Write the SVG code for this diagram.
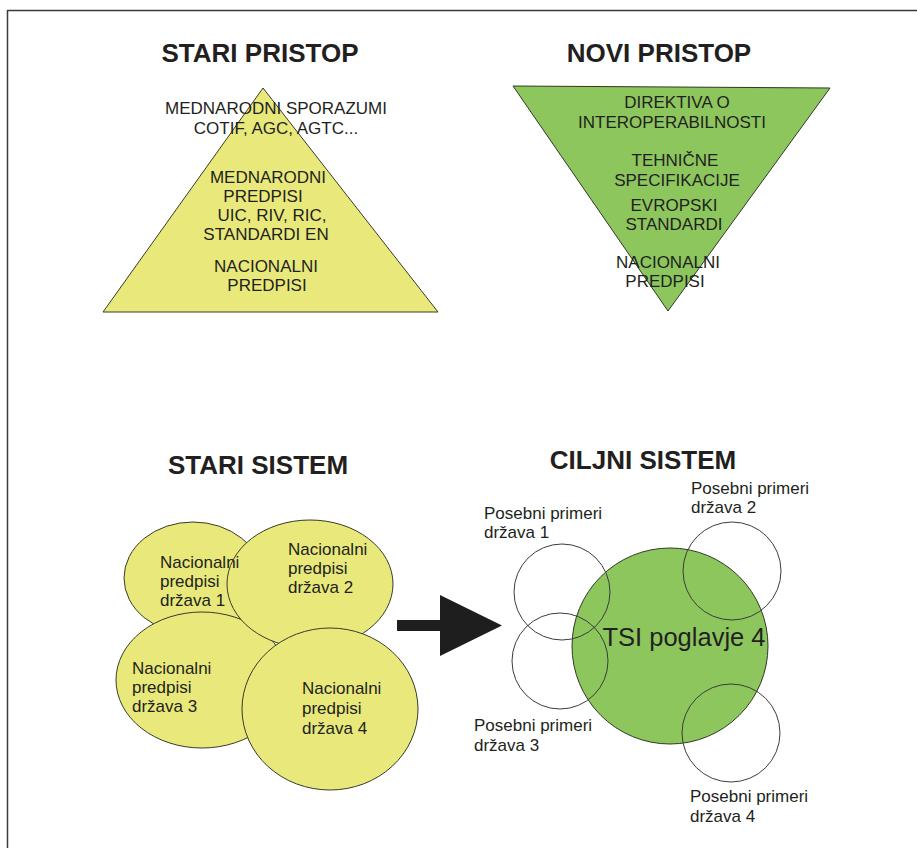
<svg xmlns="http://www.w3.org/2000/svg" width="917" height="848" viewBox="0 0 917 848">
<style>
text{font-family:"Liberation Sans",Arial,sans-serif;fill:#231f20}
.t{font-size:26px;font-weight:bold;text-anchor:middle}
.c{font-size:17px;text-anchor:middle}
.s{font-size:17px}
.y{fill:#e8e97a;stroke:#3a3a2a;stroke-width:1}
.g{fill:#8cc65d;stroke:#2e3a26;stroke-width:1}
.o{fill:none;stroke:#3c3c3c;stroke-width:1}
</style>
<rect width="917" height="848" fill="#fff"/>
<path d="M7.5 848V10.5H917" fill="none" stroke="#3a3a3a" stroke-width="1.5"/>

<g id="stari-pristop">
<text class="t" x="260" y="62">STARI PRISTOP</text>
<polygon class="y" points="263,88 438,312 103,312"/>
<text class="c" x="276" y="114">MEDNARODNI SPORAZUMI</text>
<text class="c" x="276" y="134">COTIF, AGC, AGTC...</text>
<text class="c" x="268" y="183">MEDNARODNI</text>
<text class="c" x="263" y="202">PREDPISI</text>
<text class="c" x="272" y="221">UIC, RIV, RIC,</text>
<text class="c" x="266" y="240">STANDARDI EN</text>
<text class="c" x="266" y="272">NACIONALNI</text>
<text class="c" x="267" y="291">PREDPISI</text>
</g>

<g id="novi-pristop">
<text class="t" x="659" y="62">NOVI PRISTOP</text>
<polygon class="g" points="513,86 830,88 668,311"/>
<text class="c" x="677" y="108">DIREKTIVA O</text>
<text class="c" x="672" y="128">INTEROPERABILNOSTI</text>
<text class="c" x="675" y="166">TEHNIČNE</text>
<text class="c" x="677" y="186">SPECIFIKACIJE</text>
<text class="c" x="674" y="211">EVROPSKI</text>
<text class="c" x="674" y="230">STANDARDI</text>
<text class="c" x="668" y="268">NACIONALNI</text>
<text class="c" x="665" y="287">PREDPISI</text>
</g>

<g id="stari-sistem">
<text class="t" x="258" y="474">STARI SISTEM</text>
<ellipse class="y" cx="193" cy="578" rx="69" ry="56"/>
<ellipse class="y" cx="202" cy="680" rx="86" ry="68"/>
<ellipse class="y" cx="310" cy="584" rx="83" ry="64"/>
<ellipse class="y" cx="330" cy="709" rx="88" ry="81"/>
<g id="drzava1"><text class="s" x="160" y="568">Nacionalni</text><text class="s" x="160" y="587">predpisi</text><text class="s" x="160" y="606">država 1</text></g>
<g id="drzava2"><text class="s" x="288" y="555">Nacionalni</text><text class="s" x="288" y="574">predpisi</text><text class="s" x="288" y="593">država 2</text></g>
<g id="drzava3"><text class="s" x="132" y="674">Nacionalni</text><text class="s" x="132" y="693">predpisi</text><text class="s" x="132" y="712">država 3</text></g>
<g id="drzava4"><text class="s" x="302" y="694">Nacionalni</text><text class="s" x="302" y="714">predpisi</text><text class="s" x="302" y="734">država 4</text></g>
</g>

<g id="connectors">
<path d="M397 620H440V595L502 625.5L440 656V631H397Z" fill="#1e1e1e"/>
</g>

<g id="ciljni-sistem">
<text class="t" x="643" y="469">CILJNI SISTEM</text>
<circle class="g" cx="670" cy="646" r="98"/>
<text x="684" y="646" style="font-size:25.5px;text-anchor:middle">TSI poglavje 4</text>
<circle class="o" cx="562" cy="592" r="48"/>
<circle class="o" cx="560" cy="661" r="48"/>
<circle class="o" cx="732" cy="571" r="49"/>
<circle class="o" cx="731" cy="733" r="49"/>
<g id="primeri1"><text class="s" x="484" y="519">Posebni primeri</text><text class="s" x="484" y="538">država 1</text></g>
<g id="primeri2"><text class="s" x="691" y="494">Posebni primeri</text><text class="s" x="691" y="513">država 2</text></g>
<g id="primeri3"><text class="s" x="474" y="731">Posebni primeri</text><text class="s" x="474" y="751">država 3</text></g>
<g id="primeri4"><text class="s" x="690" y="802">Posebni primeri</text><text class="s" x="690" y="822">država 4</text></g>
</g>
</svg>
